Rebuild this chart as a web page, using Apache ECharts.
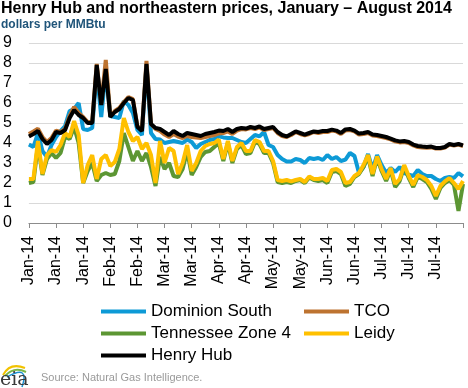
<!DOCTYPE html>
<html><head><meta charset="utf-8">
<script src="https://cdn.jsdelivr.net/npm/echarts@6/dist/echarts.min.js"></script>
<style>html,body{margin:0;padding:0;background:#fff}#c{width:468px;height:388px}</style>
</head><body><div id="c"></div>
<script>
const tickLabels = ['Jan-14','Jan-14','Jan-14','Feb-14','Feb-14','Mar-14','Mar-14','Apr-14','Apr-14','May-14','May-14','Jun-14','Jun-14','Jul-14','Jul-14','Jul-14'];
const pointsPerTick = 6;
const henryHub = [4.33,4.45,4.6,4.2,3.95,4.15,4.55,4.5,4.65,5.25,5.65,5.4,5.25,5.0,5.0,7.9,5.9,7.7,5.3,5.55,5.7,6.0,6.25,6.15,4.8,4.6,7.95,4.95,4.75,4.7,4.55,4.4,4.6,4.45,4.35,4.5,4.45,4.4,4.35,4.45,4.5,4.55,4.62,4.6,4.7,4.55,4.7,4.75,4.72,4.8,4.75,4.83,4.7,4.75,4.8,4.55,4.4,4.33,4.45,4.58,4.5,4.42,4.5,4.58,4.55,4.6,4.6,4.67,4.62,4.5,4.68,4.7,4.62,4.47,4.5,4.55,4.42,4.4,4.35,4.3,4.22,4.13,4.08,4.1,4.05,3.92,3.85,3.82,3.8,3.82,3.75,3.75,3.8,3.95,3.9,3.95,3.88];
const tco = [4.45,4.58,4.72,4.3,4.05,4.25,4.62,4.55,4.7,5.35,5.8,5.5,5.3,5.05,5.05,7.95,5.95,8.15,5.35,5.6,5.75,6.05,6.3,6.2,4.85,4.65,8.1,4.95,4.7,4.6,4.42,4.3,4.45,4.32,4.25,4.35,4.3,4.28,4.25,4.3,4.35,4.4,4.48,4.5,4.58,4.45,4.62,4.7,4.68,4.75,4.7,4.78,4.65,4.7,4.75,4.5,4.35,4.3,4.4,4.55,4.45,4.38,4.45,4.55,4.5,4.55,4.55,4.62,4.58,4.45,4.63,4.65,4.58,4.42,4.45,4.5,4.38,4.35,4.3,4.25,4.18,4.08,4.03,4.05,4.0,3.88,3.8,3.78,3.76,3.78,3.72,3.72,3.77,3.92,3.87,3.92,3.85];
const dominionSouth = [3.92,3.8,4.5,3.6,3.3,3.9,4.3,4.6,4.85,5.6,5.7,6.0,4.7,4.65,4.75,7.6,5.3,7.6,5.35,5.3,5.25,6.1,5.9,5.5,4.65,4.4,7.9,4.5,4.2,4.17,4.0,4.05,4.1,4.05,4.0,4.17,4.05,3.75,3.95,4.05,4.15,4.2,4.33,4.28,4.25,4.25,4.15,4.05,4.0,4.2,4.4,4.33,4.55,3.9,3.8,3.4,3.2,3.08,3.08,3.2,3.15,3.0,3.25,3.2,3.25,3.15,3.4,3.2,3.3,3.1,3.17,3.5,3.35,2.5,2.8,3.45,2.7,3.4,2.9,2.5,2.75,2.55,2.8,2.5,2.42,2.35,2.65,2.45,2.35,2.35,2.2,2.1,2.25,2.3,2.25,2.5,2.33];
const tennesseeZone4 = [2.0,2.05,3.9,2.4,3.2,3.5,3.25,3.5,4.3,4.2,4.8,4.0,2.0,2.6,3.0,2.1,2.4,2.5,2.4,2.45,3.1,4.5,3.8,3.1,3.6,3.1,3.5,2.8,1.85,3.3,2.7,3.0,2.35,2.3,2.7,3.6,2.4,2.8,3.3,3.55,3.6,3.8,4.0,3.1,4.0,3.0,3.7,3.9,3.45,3.5,4.05,3.95,3.5,3.5,3.0,2.05,2.0,2.05,2.0,2.1,2.15,2.0,2.28,2.15,2.1,2.15,2.0,2.55,2.6,2.45,1.85,1.95,2.3,2.45,2.8,3.3,2.35,3.25,2.6,2.1,2.65,1.8,2.1,2.8,2.25,1.8,2.3,2.2,2.05,1.7,1.2,1.75,2.0,2.15,1.9,0.6,1.95];
const leidy = [2.2,2.2,4.1,2.45,3.4,3.65,3.55,3.9,4.5,4.3,5.1,4.4,2.0,2.9,3.4,2.2,3.2,3.4,2.85,3.05,3.7,5.25,4.55,4.1,4.3,3.7,4.0,3.4,2.0,4.1,3.0,3.75,3.6,2.45,3.0,3.9,2.6,3.0,3.6,3.85,3.95,4.0,4.17,3.2,4.1,3.1,3.8,4.0,3.6,3.6,4.15,4.05,3.6,3.6,3.1,2.15,2.1,2.15,2.08,2.15,2.2,2.05,2.33,2.2,2.2,2.25,2.1,2.65,2.7,2.55,2.0,2.05,2.35,2.5,2.9,3.4,2.45,3.33,2.7,2.2,2.75,1.95,2.2,2.9,2.35,1.9,2.4,2.3,2.15,1.85,1.35,1.85,2.08,2.25,2.0,1.7,2.1];
const seriesNames = ['Dominion South','TCO','Tennessee Zone 4','Leidy','Henry Hub'];
const seriesColors = ['#0d9ad6','#bd7330','#5c9633','#ffc000','#000000'];
const seriesValues = [dominionSouth, tco, tennesseeZone4, leidy, henryHub];

const FONT = '"Liberation Sans", Arial, sans-serif';
const chart = echarts.init(document.getElementById('c'), null, {renderer:'canvas'});
const nPts = henryHub.length;
const legendCommon = {orient:'vertical',top:298,itemWidth:45,itemHeight:4,itemGap:5,icon:'rect',
  textStyle:{fontFamily:FONT,fontSize:17,color:'#000',lineHeight:17}};
chart.setOption({
  animation:false,
  backgroundColor:'#fff',
  title:{
    text:'Henry Hub and northeastern prices, January – August 2014',
    subtext:'dollars per MMBtu',
    left:1, top:0, itemGap:2, padding:[1,0,0,0],
    textStyle:{fontFamily:FONT,fontSize:16,fontWeight:'bold',color:'#000'},
    subtextStyle:{fontFamily:FONT,fontSize:12,fontWeight:'bold',color:'#1f5479'}
  },
  grid:{left:26,right:5,top:43,bottom:165},
  xAxis:{
    type:'value', min:0, max:nPts-1, interval:pointsPerTick,
    axisLine:{lineStyle:{color:'#8c8c8c',width:1}},
    axisTick:{show:true,length:5,lineStyle:{color:'#8c8c8c'}},
    splitLine:{show:false},
    axisLabel:{rotate:90,margin:13,fontFamily:FONT,fontSize:16,color:'#000',
      formatter:v=>{const k=Math.round(v/pointsPerTick);return tickLabels[k]||'';}}
  },
  yAxis:{
    type:'value',min:0,max:9,interval:1,
    axisLine:{show:false},axisTick:{show:false},
    splitLine:{lineStyle:{color:'#d9d9d9',width:1}},
    axisLabel:{margin:17,fontFamily:FONT,fontSize:16,color:'#000'}
  },
  legend:[
    Object.assign({data:['Dominion South','Tennessee Zone 4','Henry Hub'],left:96},legendCommon),
    Object.assign({data:['TCO','Leidy'],left:299},legendCommon)
  ],
  series:seriesNames.map((name,si)=>({
    name, type:'line', symbol:'none', showSymbol:false,
    data:seriesValues[si].map((v,i)=>[i,v]),
    lineStyle:{color:seriesColors[si],width:4},
    itemStyle:{color:seriesColors[si]},
    z:2+si
  })),
  graphic:[
    {type:'text',left:41,top:372,style:{text:'Source: Natural Gas Intelligence.',font:'11px '+FONT,fill:'#9a9a9a'}},
    {type:'bezierCurve',shape:{x1:3,y1:375,cpx1:10,cpy1:362,x2:25,y2:368},style:{stroke:'#f2c200',lineWidth:2,fill:null}},
    {type:'bezierCurve',shape:{x1:5,y1:376,cpx1:14,cpy1:366,x2:26,y2:372},style:{stroke:'#7ab648',lineWidth:2,fill:null}},
    {type:'bezierCurve',shape:{x1:7,y1:377,cpx1:30,cpy1:364,x2:22,y2:387},style:{stroke:'#1c8fd0',lineWidth:1.5,fill:null}},
    {type:'text',left:0,top:371,style:{text:'eia',font:'19px "DejaVu Serif", serif',fill:'#3a3a3a'}}
  ]
});
</script></body></html>
